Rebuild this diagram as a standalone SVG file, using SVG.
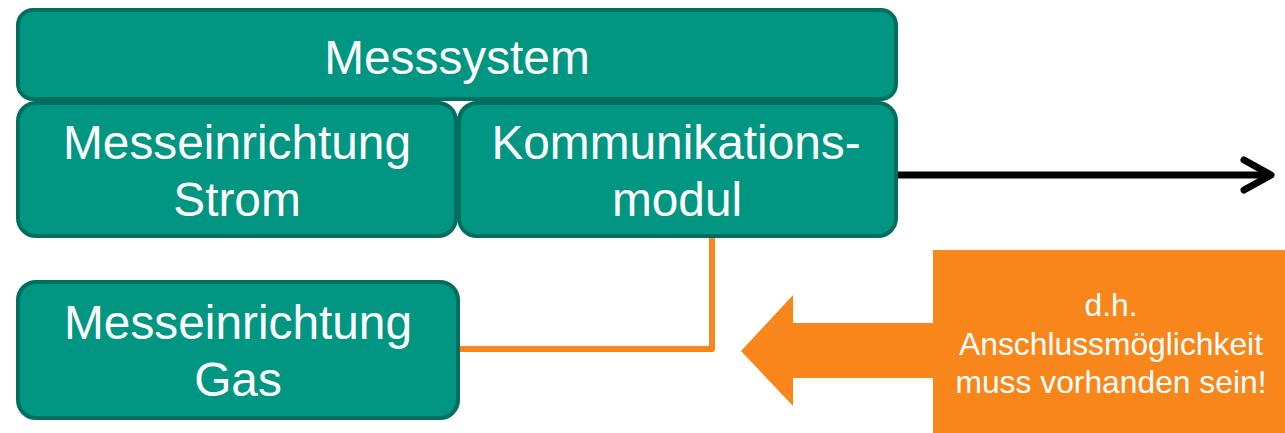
<svg xmlns="http://www.w3.org/2000/svg" width="1285" height="433" viewBox="0 0 1285 433">
  <style>
    .box { fill: #009682; stroke: #006F5F; stroke-width: 4; }
    .lbl { font-family: "Liberation Sans", Arial, sans-serif; font-size: 47.8px; fill: #ffffff; text-anchor: middle; }
    .note { font-family: "Liberation Sans", Arial, sans-serif; font-size: 31.8px; fill: #ffffff; text-anchor: middle; }
  </style>
  <rect width="1285" height="433" fill="#ffffff"/>

  <!-- connectors -->
  <g id="connectors" fill="none" stroke-linejoin="round">
    <path d="M898 175 H1270" stroke="#000000" stroke-width="7"/>
    <path d="M1244 160 L1271 175 L1244 190" stroke="#000000" stroke-width="7" stroke-linecap="round"/>
    <path d="M712 238 V349 H460" stroke="#F8861A" stroke-width="6"/>
  </g>

  <g id="messsystem">
    <rect class="box" x="18" y="10" width="878" height="89" rx="15"/>
    <text class="lbl" x="457" y="74">Messsystem</text>
  </g>

  <g id="messeinrichtung-strom">
    <rect class="box" x="18" y="103" width="438" height="133" rx="18"/>
    <text class="lbl" x="237" y="159">Messeinrichtung</text>
    <text class="lbl" x="237" y="216">Strom</text>
  </g>

  <g id="kommunikationsmodul">
    <rect class="box" x="459" y="103" width="437" height="133" rx="18"/>
    <text class="lbl" x="676" y="159">Kommunikations-</text>
    <text class="lbl" x="677" y="216">modul</text>
  </g>

  <g id="messeinrichtung-gas">
    <rect class="box" x="18" y="282" width="440" height="136" rx="18"/>
    <text class="lbl" x="238" y="339">Messeinrichtung</text>
    <text class="lbl" x="238" y="396">Gas</text>
  </g>

  <g id="hinweis">
    <path d="M933 250 H1285 V433 H933 V378 H793 V406 L741 351 L793 295 V323 H933 Z" fill="#F8861A"/>
    <text class="note" x="1111" y="316">d.h.</text>
    <text class="note" x="1111" y="355">Anschlussmöglichkeit</text>
    <text class="note" x="1111" y="393">muss vorhanden sein!</text>
  </g>
</svg>
